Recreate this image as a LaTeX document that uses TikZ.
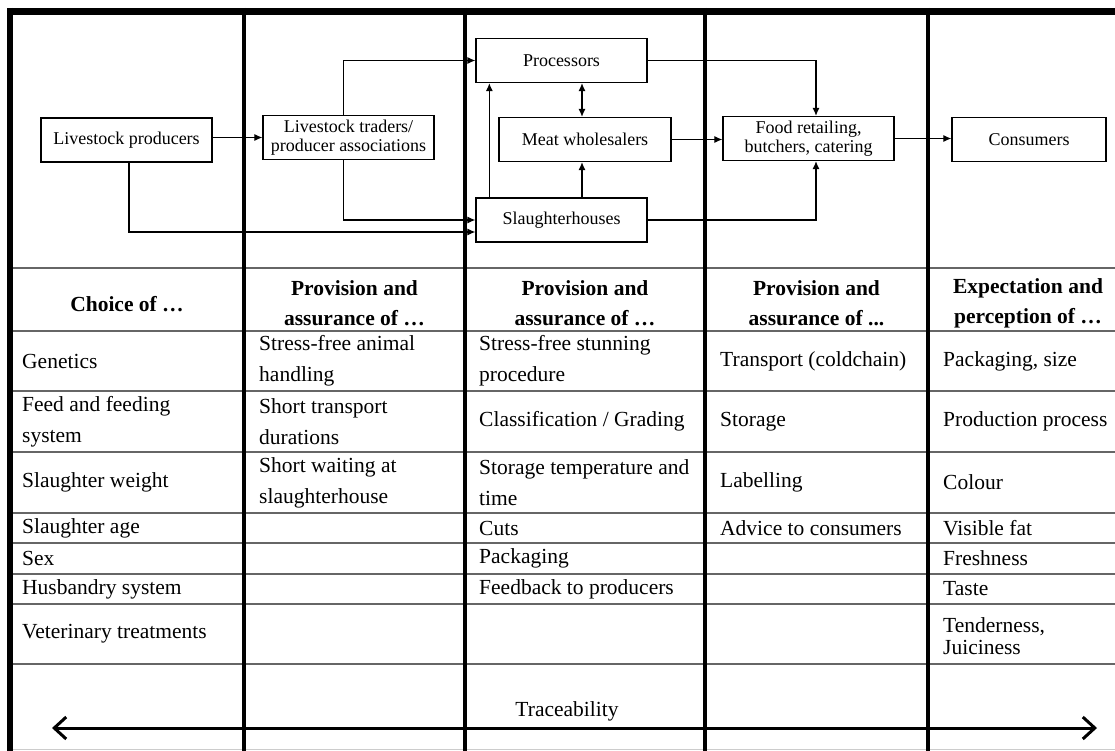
\documentclass[tikz,border=0pt]{standalone}
\usepackage{fontspec}
\setmainfont{Liberation Serif}
\usetikzlibrary{arrows.meta}

\begin{document}
\begin{tikzpicture}[x=1pt, y=-1pt]
\tikzset{actor/.style={draw, line width=1.3pt, minimum width=171pt, minimum height=44pt, inner sep=2pt, align=center, font=\fontsize{18}{19}\selectfont}}
\tikzset{flow/.style={line width=1.1pt, -{Latex[length=8pt,width=7pt]}}}
\tikzset{colline/.style={line width=4pt}}
\tikzset{rowline/.style={draw=black!60, line width=1.8pt}}
\tikzset{cell/.style={anchor=west, inner sep=0pt, align=left, font=\fontsize{21.5}{31}\selectfont}}
\tikzset{head/.style={inner sep=0pt, align=center, font=\fontsize{21.5}{30}\selectfont\bfseries}}
\useasboundingbox (0,0) rectangle (1115,751);

% row rules first, column lines on top
\draw[rowline] (10,268) -- (1115,268);
\draw[rowline] (10,331) -- (1115,331);
\draw[rowline] (10,391) -- (1115,391);
\draw[rowline] (10,452) -- (1115,452);
\draw[rowline] (10,513) -- (1115,513);
\draw[rowline] (10,543) -- (1115,543);
\draw[rowline] (10,574) -- (1115,574);
\draw[rowline] (10,604) -- (1115,604);
\draw[rowline] (10,664) -- (1115,664);
\draw[draw=black!20, line width=1pt] (10,749) -- (1115,749);
\draw[line width=7pt] (7,11.5) -- (1115,11.5);
\draw[line width=6pt] (10,8) -- (10,751);
\draw[colline] (244,8) -- (244,751);
\draw[colline] (465,8) -- (465,751);
\draw[colline] (705,8) -- (705,751);
\draw[colline] (928,8) -- (928,751);

% chain
\node[actor] (prod) at (126.5,140) {Livestock producers};
\node[actor] (trad) at (348.5,137.5) {Livestock traders/\\producer associations};
\node[actor] (proc) at (561.5,60.5) {Processors};
\node[actor, minimum width=172pt] (whol) at (585,139.5) {Meat wholesalers};
\node[actor] (slau) at (561.5,220) {Slaughterhouses};
\node[actor] (retl) at (808.5,138.5) {Food retailing,\\butchers, catering};
\node[actor, minimum width=154pt] (cons) at (1029,139.5) {Consumers};

\draw[flow] (prod.east |- trad.west) -- (trad.west);
\draw[flow] ([xshift=-5pt]trad.north) |- (proc.west);
\draw[flow] ([xshift=-5pt]trad.south) |- (slau.west);
\draw[flow] ([xshift=2.5pt]prod.south) |- ([yshift=-12pt]slau.west);
\draw[flow] ([xshift=14pt]slau.north west) -- ([xshift=14pt]proc.south west);
\draw[flow, {Latex[length=8pt,width=7pt]}-{Latex[length=8pt,width=7pt]}] ([xshift=-3pt]whol.north |- proc.south) -- ([xshift=-3pt]whol.north);
\draw[flow] ([xshift=-3pt]whol.south |- slau.north) -- ([xshift=-3pt]whol.south);
\draw[flow] (whol.east) -- (whol.east -| retl.west);
\draw[flow] (proc.east) -| ([xshift=7.5pt]retl.north);
\draw[flow] (slau.east) -| ([xshift=7.5pt]retl.south);
\draw[flow] (retl.east) -- (retl.east -| cons.west);

% headers
\node[head] (h1) at (127,304) {Choice of …};
\node[head] (h2) at (354.5,303) {Provision and\\assurance of …};
\node[head] (h3) at (585,303) {Provision and\\assurance of …};
\node[head] (h4) at (816.5,303) {Provision and\\assurance of ...};
\node[head] (h5) at (1028,303) {Expectation and\\perception of …};

% choice of
\node[cell] (ch1) at (22,361) {Genetics};
\node[cell] (ch2) at (22,421.5) {Feed and feeding\\system};
\node[cell] (ch3) at (22,482.5) {Slaughter weight};
\node[cell] (ch4) at (22,528) {Slaughter age};
\node[cell] (ch5) at (22,558.5) {Sex};
\node[cell] (ch6) at (22,589) {Husbandry system};
\node[cell] (ch7) at (22,634) {Veterinary treatments};

% traders
\node[cell] (an1) at (259,361) {Stress-free animal\\handling};
\node[cell] (an2) at (259,421.5) {Short transport\\durations};
\node[cell] (an3) at (259,482.5) {Short waiting at\\slaughterhouse};

% slaughter and processing
\node[cell] (sl1) at (479,361) {Stress-free stunning\\procedure};
\node[cell] (sl2) at (479,421.5) {Classification / Grading};
\node[cell] (sl3) at (479,482.5) {Storage temperature and\\time};
\node[cell] (sl4) at (479,528) {Cuts};
\node[cell] (sl5) at (479,558.5) {Packaging};
\node[cell] (sl6) at (479,589) {Feedback to producers};

% retail
\node[cell] (rt1) at (720,361) {Transport (coldchain)};
\node[cell] (rt2) at (720,421.5) {Storage};
\node[cell] (rt3) at (720,482.5) {Labelling};
\node[cell] (rt4) at (720,528) {Advice to consumers};

% consumers
\node[cell] (cs1) at (943,361) {Packaging, size};
\node[cell] (cs2) at (943,421.5) {Production process};
\node[cell] (cs3) at (943,482.5) {Colour};
\node[cell] (cs4) at (943,528) {Visible fat};
\node[cell] (cs5) at (943,558.5) {Freshness};
\node[cell] (cs6) at (943,589) {Taste};
\node[cell, font=\fontsize{21.5}{21.5}\selectfont] (cs7) at (943,636) {Tenderness,\\Juiciness};

% traceability
\coordinate (tl) at (52,728);
\coordinate (tr) at (1097,728);
\draw[line width=3pt, {Straight Barb[length=12pt,width=22pt]}-{Straight Barb[length=12pt,width=22pt]}] (tl) -- (tr);
\node[inner sep=0pt, font=\fontsize{21.5}{26}\selectfont] (trace) at (567,711) {Traceability};
\end{tikzpicture}
\end{document}
